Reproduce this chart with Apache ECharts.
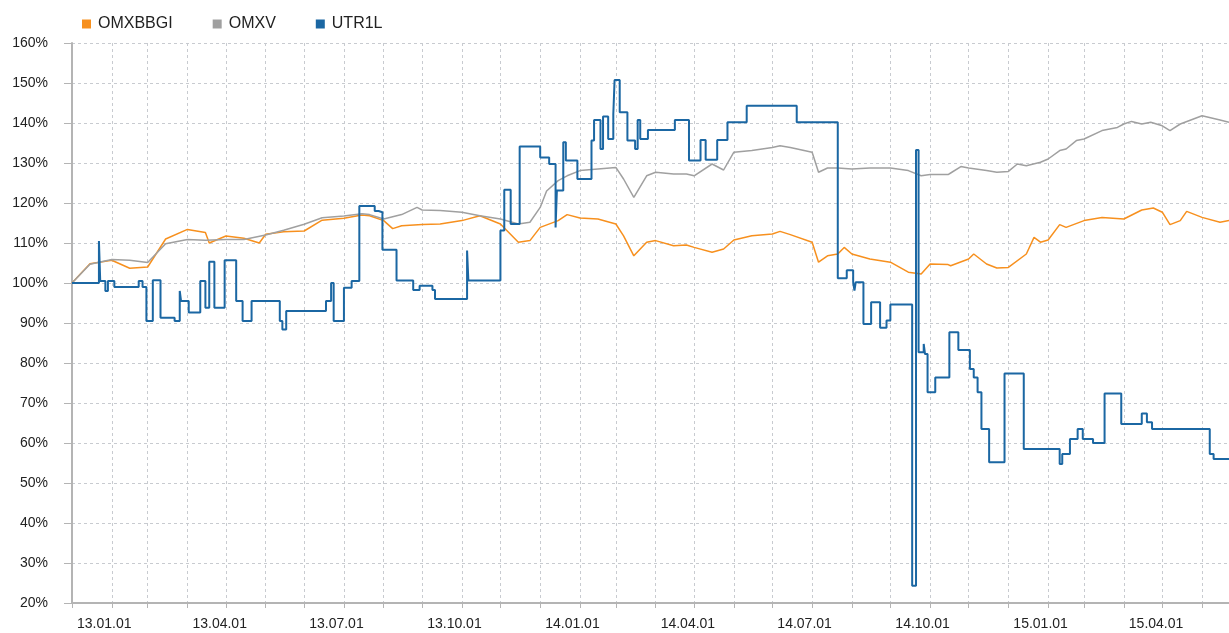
<!DOCTYPE html>
<html>
<head>
<meta charset="utf-8">
<script src="https://cdn.jsdelivr.net/npm/echarts@6/dist/echarts.min.js"></script>
<style>
  html, body { margin: 0; padding: 0; background: #fff; }
  #chart { width: 1229px; height: 633px; }
</style>
</head>
<body>
<div id="chart"></div>
<script>
// values are % of start (2013-01-01 = 100)
const seriesNames = ['OMXBBGI', 'OMXV', 'UTR1L']
const seriesColors = ['#f7901e', '#a0a0a0', '#1b67a3']
const yTicks = [20, 160, 10]
const xRange = ['2013-01-01', '2015-06-22']

const omxbbgi = [
  ['2013-01-01', 100], ['2013-01-15', 104.8], ['2013-02-01', 105.7], ['2013-02-15', 103.7],
  ['2013-03-01', 104], ['2013-03-15', 111], ['2013-04-01', 113.4], ['2013-04-15', 112.6],
  ['2013-04-18', 110], ['2013-05-01', 111.75], ['2013-05-15', 111.2], ['2013-05-27', 110],
  ['2013-06-01', 112.2], ['2013-06-15', 112.8], ['2013-07-01', 113], ['2013-07-15', 115.7],
  ['2013-08-01', 116.2], ['2013-08-15', 117], ['2013-08-21', 116.8], ['2013-09-01', 115.6],
  ['2013-09-08', 113.6], ['2013-09-15', 114.3], ['2013-10-01', 114.6], ['2013-10-15', 114.75],
  ['2013-11-01', 115.6], ['2013-11-15', 116.8], ['2013-12-01', 114.75], ['2013-12-15', 110.2],
  ['2013-12-24', 110.6], ['2014-01-01', 113.9], ['2014-01-15', 115.6], ['2014-01-22', 117.1],
  ['2014-02-01', 116.25], ['2014-02-15', 116], ['2014-03-01', 114.75], ['2014-03-07', 111.8],
  ['2014-03-15', 106.8], ['2014-03-25', 110.2], ['2014-04-01', 110.6], ['2014-04-15', 109.3],
  ['2014-04-25', 109.5], ['2014-05-01', 108.9], ['2014-05-15', 107.7], ['2014-05-24', 108.5],
  ['2014-06-01', 110.75], ['2014-06-15', 111.8], ['2014-07-01', 112.25], ['2014-07-07', 112.9],
  ['2014-07-15', 112.1], ['2014-08-01', 110.2], ['2014-08-06', 105.2], ['2014-08-13', 106.8],
  ['2014-08-21', 107.25], ['2014-08-26', 108.9], ['2014-09-01', 107.25], ['2014-09-15', 106],
  ['2014-10-01', 105.2], ['2014-10-15', 102.7], ['2014-10-25', 102.25], ['2014-11-01', 104.75],
  ['2014-11-15', 104.6], ['2014-11-17', 104.3], ['2014-12-01', 106], ['2014-12-05', 107.25],
  ['2014-12-15', 104.75], ['2014-12-23', 103.75], ['2015-01-01', 103.9], ['2015-01-15', 107.25],
  ['2015-01-21', 111.4], ['2015-01-26', 110.2], ['2015-02-01', 110.75], ['2015-02-10', 114.6],
  ['2015-02-15', 113.9], ['2015-03-01', 115.6], ['2015-03-15', 116.4], ['2015-04-01', 116],
  ['2015-04-15', 118.25], ['2015-04-24', 118.75], ['2015-05-01', 117.7], ['2015-05-07', 114.6],
  ['2015-05-15', 115.6], ['2015-05-20', 117.9], ['2015-06-01', 116.4], ['2015-06-15', 115.2],
  ['2015-06-22', 115.6]
]

const omxv = [
  ['2013-01-01', 100], ['2013-01-15', 104.7], ['2013-02-01', 105.9], ['2013-02-15', 105.7],
  ['2013-03-01', 105.1], ['2013-03-15', 109.8], ['2013-04-01', 110.9], ['2013-04-15', 110.7],
  ['2013-05-01', 110.9], ['2013-05-15', 110.9], ['2013-06-01', 112], ['2013-06-15', 113.2],
  ['2013-07-01', 114.7], ['2013-07-15', 116.3], ['2013-08-01', 116.75], ['2013-08-15', 117.3],
  ['2013-08-21', 117.1], ['2013-09-01', 116], ['2013-09-15', 117.1], ['2013-09-27', 118.9],
  ['2013-10-01', 118.25], ['2013-10-15', 118.1], ['2013-11-01', 117.7], ['2013-11-15', 116.8],
  ['2013-12-01', 116], ['2013-12-15', 114.75], ['2013-12-24', 115.2], ['2014-01-01', 118.9],
  ['2014-01-06', 123], ['2014-01-15', 125.6], ['2014-01-22', 126.8], ['2014-02-01', 128.1],
  ['2014-02-15', 128.5], ['2014-03-01', 128.9], ['2014-03-07', 126], ['2014-03-15', 121.4],
  ['2014-03-25', 126.8], ['2014-04-01', 127.7], ['2014-04-15', 127.25], ['2014-04-25', 127.25],
  ['2014-05-01', 126.8], ['2014-05-15', 129.75], ['2014-05-24', 128.25], ['2014-06-01', 132.7],
  ['2014-06-15', 133.1], ['2014-07-01', 133.9], ['2014-07-07', 134.3], ['2014-07-15', 133.9],
  ['2014-08-01', 132.7], ['2014-08-06', 127.7], ['2014-08-13', 128.75], ['2014-08-21', 128.75],
  ['2014-09-01', 128.5], ['2014-09-15', 128.75], ['2014-10-01', 128.75], ['2014-10-15', 128.1],
  ['2014-10-25', 126.8], ['2014-11-01', 127.1], ['2014-11-15', 127.1], ['2014-11-17', 127.5],
  ['2014-11-25', 129.1], ['2014-12-01', 128.75], ['2014-12-15', 128.1], ['2014-12-23', 127.7],
  ['2015-01-01', 127.9], ['2015-01-08', 129.75], ['2015-01-15', 129.3], ['2015-01-26', 130.2],
  ['2015-02-01', 131], ['2015-02-10', 133.1], ['2015-02-15', 133.5], ['2015-02-23', 135.6],
  ['2015-03-01', 136], ['2015-03-15', 138.1], ['2015-03-27', 138.9], ['2015-04-01', 139.75],
  ['2015-04-07', 140.4], ['2015-04-15', 139.75], ['2015-04-22', 140.2], ['2015-05-01', 139.3],
  ['2015-05-07', 138.1], ['2015-05-15', 139.75], ['2015-06-01', 141.8], ['2015-06-15', 140.75],
  ['2015-06-22', 140.2]
]

// thinly traded, so kept as levels that hold until the next date
const utr1l = [
  ['2013-01-01', 100], ['2013-01-22', 110.5], ['2013-01-23', 100.5], ['2013-01-27', 98],
  ['2013-01-29', 100.5], ['2013-02-03', 99], ['2013-02-22', 100.5], ['2013-02-25', 99],
  ['2013-02-28', 90.5], ['2013-03-05', 100.7], ['2013-03-11', 91.3], ['2013-03-22', 90.5],
  ['2013-03-26', 98], ['2013-03-27', 95.5], ['2013-04-02', 92.6], ['2013-04-11', 100.5],
  ['2013-04-15', 93.8], ['2013-04-18', 105.3], ['2013-04-22', 93.8], ['2013-04-30', 105.7],
  ['2013-05-09', 95.5], ['2013-05-14', 90.5], ['2013-05-21', 95.5], ['2013-06-12', 90.5],
  ['2013-06-14', 88.4], ['2013-06-17', 93], ['2013-07-18', 95.5], ['2013-07-22', 100],
  ['2013-07-24', 90.5], ['2013-08-01', 98.8], ['2013-08-07', 100.5], ['2013-08-13', 119.25],
  ['2013-08-25', 118], ['2013-08-28', 117.7], ['2013-08-31', 108.3], ['2013-09-11', 100.6],
  ['2013-09-24', 98.25], ['2013-09-29', 99.3], ['2013-10-09', 98.25], ['2013-10-11', 96],
  ['2013-11-05', 108.1], ['2013-11-06', 100.6], ['2013-12-01', 113.1], ['2013-12-04', 123.3],
  ['2013-12-09', 114.75], ['2013-12-16', 134.1], ['2014-01-01', 131.4], ['2014-01-08', 129.75],
  ['2014-01-13', 113.9], ['2014-01-14', 123.1], ['2014-01-19', 135.2], ['2014-01-21', 130.6],
  ['2014-01-30', 126], ['2014-02-10', 135.6], ['2014-02-12', 140.75], ['2014-02-17', 133.5],
  ['2014-02-19', 141.6], ['2014-02-23', 136], ['2014-02-27', 142.25], ['2014-02-28', 150.75],
  ['2014-03-04', 142.7], ['2014-03-10', 135.6], ['2014-03-16', 133.5], ['2014-03-18', 140.75],
  ['2014-03-20', 136], ['2014-03-26', 138.25], ['2014-04-16', 140.75], ['2014-04-27', 130.6],
  ['2014-05-06', 135.75], ['2014-05-10', 130.8], ['2014-05-19', 135.75], ['2014-05-27', 140.2],
  ['2014-06-11', 144.3], ['2014-07-20', 140.2], ['2014-08-21', 101.2], ['2014-08-28', 103.2],
  ['2014-09-02', 100.2], ['2014-09-03', 98.1], ['2014-09-04', 100.2], ['2014-09-10', 89.75],
  ['2014-09-16', 95.2], ['2014-09-23', 88.8], ['2014-09-28', 90.6], ['2014-10-01', 94.6],
  ['2014-10-18', 24.3], ['2014-10-21', 133.25], ['2014-10-23', 82.7], ['2014-10-27', 84.75],
  ['2014-10-28', 82.25], ['2014-10-30', 72.7], ['2014-11-05', 76.4], ['2014-11-16', 87.7],
  ['2014-11-23', 83.25], ['2014-12-02', 78.5], ['2014-12-05', 76.4], ['2014-12-08', 72.7],
  ['2014-12-11', 63.5], ['2014-12-17', 55.2], ['2014-12-29', 77.4], ['2015-01-13', 58.5],
  ['2015-02-10', 54.75], ['2015-02-12', 57.25], ['2015-02-18', 61], ['2015-02-24', 63.5],
  ['2015-02-28', 61], ['2015-03-08', 60], ['2015-03-17', 72.4], ['2015-03-30', 64.75],
  ['2015-04-15', 67.4], ['2015-04-19', 65.2], ['2015-04-23', 63.5], ['2015-06-07', 57.25],
  ['2015-06-10', 56], ['2015-06-22', 56]
]

const FONT = '"Liberation Sans", Arial, sans-serif'
const DAY = 24 * 3600 * 1000

function pad(n) {
  return n < 10 ? `0${n}` : `${n}`
}

const chart = echarts.init(document.getElementById('chart'))

chart.setOption({
  animation: false,
  color: seriesColors,
  textStyle: { fontFamily: FONT },
  legend: {
    data: seriesNames,
    left: 77,
    top: 11,
    icon: 'rect',
    itemWidth: 9,
    itemHeight: 9,
    itemGap: 40,
    textStyle: { fontSize: 16, color: '#222', fontFamily: FONT, padding: [0, 0, 0, 2] },
  },
  grid: {
    left: 72,
    right: 0,
    top: 43,
    bottom: 30,
    containLabel: false,
  },
  xAxis: {
    type: 'time',
    min: xRange[0],
    max: xRange[1],
    minInterval: 28 * DAY,
    maxInterval: 31 * DAY,
    axisLine: { lineStyle: { color: '#b4b4b4', width: 2 } },
    axisTick: { show: true, length: 5, lineStyle: { color: '#b4b4b4', width: 1 } },
    axisLabel: {
      color: '#222',
      fontSize: 14,
      fontFamily: FONT,
      align: 'left',
      margin: 14,
      padding: [0, 0, 0, 5],
      hideOverlap: false,
      showMaxLabel: false,
      formatter: (value) => {
        const d = new Date(value)
        if (d.getDate() !== 1 || d.getMonth() % 3 !== 0)
          return ''
        return `${pad(d.getFullYear() % 100)}.${pad(d.getMonth() + 1)}.01`
      },
    },
    splitLine: {
      show: true,
      lineStyle: { color: '#c8cbd0', type: [3, 3], width: 1 },
    },
  },
  yAxis: {
    type: 'value',
    min: yTicks[0],
    max: yTicks[1],
    interval: yTicks[2],
    axisLine: { show: true, lineStyle: { color: '#b4b4b4', width: 2 } },
    axisTick: { show: true, length: 8, lineStyle: { color: '#b4b4b4', width: 1 } },
    axisLabel: {
      color: '#222',
      fontSize: 14,
      fontFamily: FONT,
      margin: 24,
      formatter: '{value}%',
    },
    splitLine: {
      show: true,
      lineStyle: { color: '#c8cbd0', type: [3, 3], width: 1 },
    },
  },
  series: [
    {
      name: seriesNames[0],
      type: 'line',
      data: omxbbgi,
      showSymbol: false,
      lineStyle: { width: 1.5 },
    },
    {
      name: seriesNames[1],
      type: 'line',
      data: omxv,
      showSymbol: false,
      lineStyle: { width: 1.5 },
    },
    {
      name: seriesNames[2],
      type: 'line',
      data: utr1l,
      step: 'end',
      showSymbol: false,
      lineStyle: { width: 2 },
    },
  ],
})
</script>
</body>
</html>
